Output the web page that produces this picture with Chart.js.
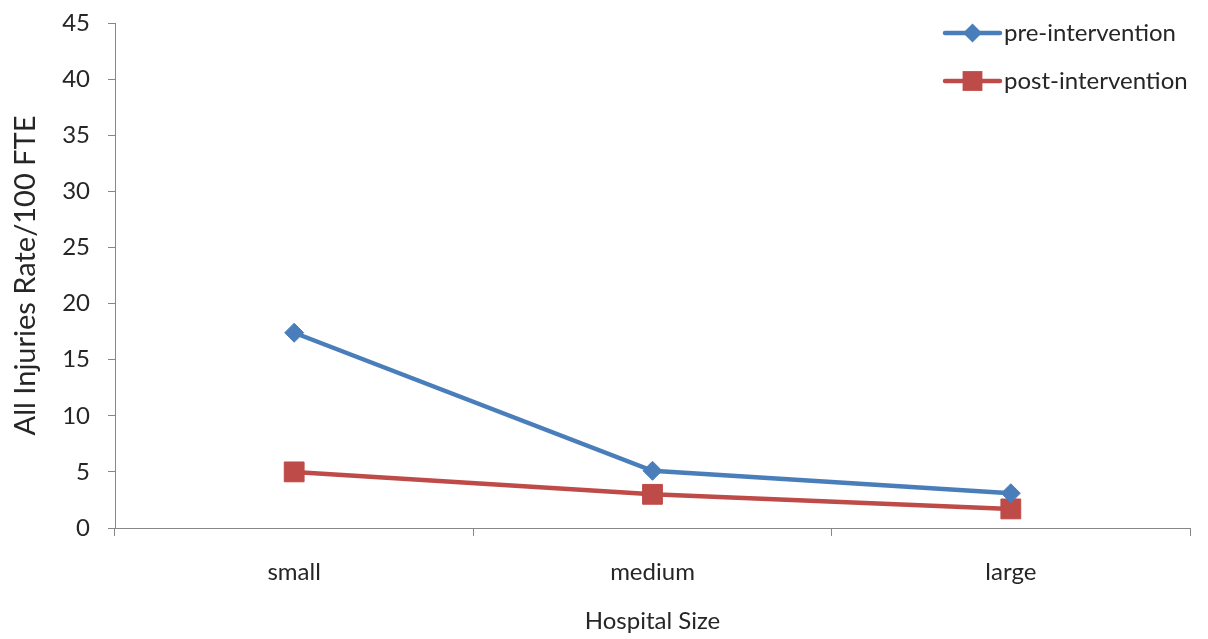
<!DOCTYPE html>
<html>
<head>
<meta charset="utf-8">
<script src="https://cdn.jsdelivr.net/npm/chart.js@4/dist/chart.umd.min.js"></script>
<style>
  html, body { margin: 0; padding: 0; background: #fff; }
  #wrap { width: 1208px; height: 639px; position: relative; }
</style>
</head>
<body>
<div id="wrap"><canvas id="c"></canvas></div>
<script>
// Injury rates by hospital size, before and after the intervention
const categories = ['small', 'medium', 'large'];
const preIntervention = [17.4, 5.1, 3.1];
const postIntervention = [5.0, 3.0, 1.7];
const yTicks = [0, 5, 10, 15, 20, 25, 30, 35, 40, 45];

const FONT = 'Lato, "Open Sans", sans-serif';
const TEXT = '#262626';
const AXIS = '#878787';

// Legend drawn inside the plot area, top right: line segment + marker + label
const lineLegend = {
  id: 'lineLegend',
  afterDraw(chart) {
    const ctx = chart.ctx;
    const x0 = 945, x1 = 1000, rows = [33, 81];
    chart.data.datasets.forEach((ds, i) => {
      const y = rows[i];
      const cx = (x0 + x1) / 2;
      ctx.save();
      ctx.strokeStyle = ds.borderColor;
      ctx.lineWidth = ds.borderWidth;
      ctx.lineCap = 'round';
      ctx.beginPath();
      ctx.moveTo(x0, y);
      ctx.lineTo(x1, y);
      ctx.stroke();
      ctx.fillStyle = ds.pointBackgroundColor;
      ctx.beginPath();
      const r = ds.pointRadius;
      if (ds.pointStyle === 'rectRot') {
        ctx.moveTo(cx - r, y);
        ctx.lineTo(cx, y - r);
        ctx.lineTo(cx + r, y);
        ctx.lineTo(cx, y + r);
        ctx.closePath();
      } else {
        const s = r * Math.SQRT1_2;
        ctx.rect(cx - s, y - s, 2 * s, 2 * s);
      }
      ctx.fill();
      ctx.fillStyle = TEXT;
      ctx.font = '24px ' + FONT;
      ctx.textBaseline = 'middle';
      ctx.textAlign = 'left';
      ctx.fillText(ds.label, x1 + 4, y);
      ctx.restore();
    });
  }
};

new Chart(document.getElementById('c'), {
  type: 'line',
  data: {
    labels: categories,
    datasets: [
      {
        label: 'pre-intervention',
        data: preIntervention,
        borderColor: '#4A7EBB',
        backgroundColor: '#4A7EBB',
        pointBackgroundColor: '#4A7EBB',
        pointBorderColor: '#4A7EBB',
        borderWidth: 4.5,
        pointStyle: 'rectRot',
        pointRadius: 9.5,
        pointBorderWidth: 1,
        tension: 0
      },
      {
        label: 'post-intervention',
        data: postIntervention,
        borderColor: '#BE4B48',
        backgroundColor: '#BE4B48',
        pointBackgroundColor: '#BE4B48',
        pointBorderColor: '#BE4B48',
        borderWidth: 4.5,
        pointStyle: 'rect',
        pointRadius: 14,
        pointBorderWidth: 1,
        tension: 0
      }
    ]
  },
  options: {
    responsive: true,
    maintainAspectRatio: false,
    animation: false,
    layout: { padding: { left: 0, right: 18, top: 23, bottom: 0 } },
    plugins: {
      legend: { display: false },
      tooltip: { enabled: false }
    },
    scales: {
      x: {
        offset: true,
        grid: {
          offset: true,
          drawOnChartArea: false,
          tickLength: 8,
          color: AXIS
        },
        border: { color: AXIS, width: 1 },
        ticks: { color: TEXT, font: { family: FONT, size: 24 }, padding: 22 },
        title: {
          display: true,
          text: 'Hospital Size',
          color: TEXT,
          font: { family: FONT, size: 24 },
          padding: { top: 0, bottom: 3 }
        },
        afterFit(scale) {
          scale.height = 111;
          scale.paddingLeft = 0;
          scale.paddingRight = 0;
        }
      },
      y: {
        min: 0,
        max: 45,
        afterBuildTicks(scale) { scale.ticks = yTicks.map(v => ({ value: v })); },
        grid: {
          drawOnChartArea: false,
          tickLength: 7,
          color: AXIS
        },
        border: { color: AXIS, width: 1 },
        ticks: { color: TEXT, font: { family: FONT, size: 24 }, padding: 18 },
        title: {
          display: true,
          text: 'All Injuries Rate/100 FTE',
          color: TEXT,
          font: { family: FONT, size: 29 },
          padding: { top: 8, bottom: 0 }
        },
        afterFit(scale) {
          scale.width = 115;
          scale.paddingTop = 0;
          scale.paddingBottom = 0;
        }
      }
    }
  },
  plugins: [lineLegend]
});
</script>
</body>
</html>
